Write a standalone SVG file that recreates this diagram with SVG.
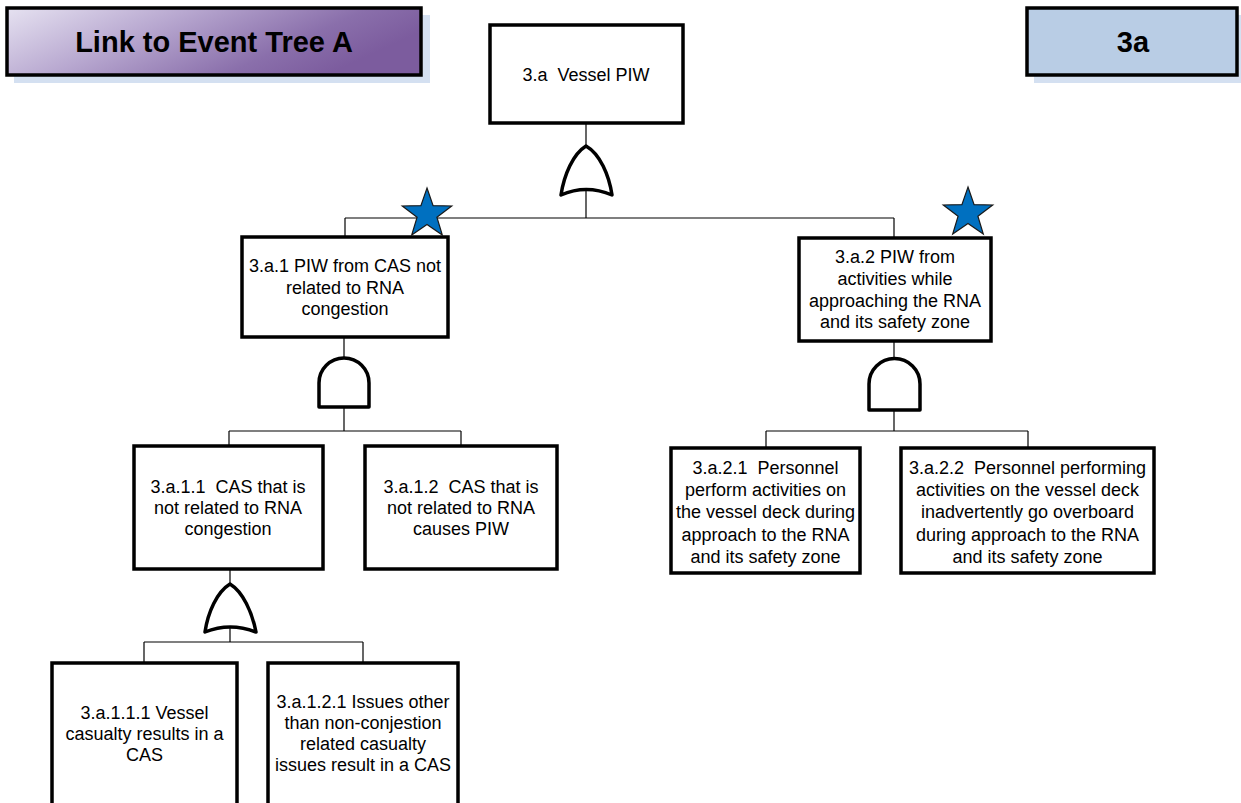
<svg xmlns="http://www.w3.org/2000/svg" width="1241" height="803" viewBox="0 0 1241 803">
<style>
.box{fill:#ffffff;stroke:#000000;stroke-width:3.5}
.gate{fill:#ffffff;stroke:#000000;stroke-width:3.5;stroke-linejoin:round}
.conn line{stroke:#000000;stroke-width:1.2}
.t{font-family:"Liberation Sans",Arial,sans-serif;font-size:18px;fill:#000000;text-anchor:middle;white-space:pre}
.h{font-family:"Liberation Sans",Arial,sans-serif;font-size:29px;font-weight:bold;fill:#000000;text-anchor:middle}
.shadow{fill:#c9d8ee;opacity:0.8}
.star{fill:#0070c0;stroke:#1a1a1a;stroke-width:1.2;stroke-linejoin:miter}
</style>
<defs>
<linearGradient id="purp" x1="0" y1="0" x2="1" y2="0.35">
<stop offset="0" stop-color="#e6e2f1"/>
<stop offset="0.4" stop-color="#b8a8d0"/>
<stop offset="0.78" stop-color="#8a6fab"/>
<stop offset="1" stop-color="#7c5c9e"/>
</linearGradient>
<path id="starShape" d="M0,-26 L6.1,-8.4 L24.7,-8 L9.9,3.2 L15.3,21 L0,10.4 L-15.3,21 L-9.9,3.2 L-24.7,-8 L-6.1,-8.4 Z"/>
</defs>
<rect width="1241" height="803" fill="#ffffff"/>

<g id="link-box">
<rect class="shadow" x="14" y="15" width="416" height="68"/>
<rect x="7" y="8" width="414" height="67" fill="url(#purp)" stroke="#000" stroke-width="3.5"/>
<text class="h" x="214" y="52">Link to Event Tree A</text>
</g>

<g id="label-3a">
<rect class="shadow" x="1034" y="15" width="210" height="68"/>
<rect x="1027" y="8" width="210" height="67" fill="#b9cde5" stroke="#000" stroke-width="3.5"/>
<text class="h" x="1133" y="52">3a</text>
</g>

<g class="conn" id="connectors">
<line x1="586" y1="123" x2="586" y2="146"/>
<line x1="586" y1="190" x2="586" y2="218"/>
<line x1="345" y1="218" x2="894" y2="218"/>
<line x1="345" y1="218" x2="345" y2="237"/>
<line x1="894" y1="218" x2="894" y2="238"/>
<line x1="344" y1="337" x2="344" y2="358"/>
<line x1="344" y1="407" x2="344" y2="431"/>
<line x1="229" y1="431" x2="461" y2="431"/>
<line x1="229" y1="431" x2="229" y2="446"/>
<line x1="461" y1="431" x2="461" y2="446"/>
<line x1="894" y1="341" x2="894" y2="358"/>
<line x1="894" y1="410" x2="894" y2="431"/>
<line x1="766" y1="431" x2="1028" y2="431"/>
<line x1="766" y1="431" x2="766" y2="448"/>
<line x1="1028" y1="431" x2="1028" y2="448"/>
<line x1="230" y1="569" x2="230" y2="584"/>
<line x1="230" y1="626" x2="230" y2="642"/>
<line x1="144" y1="642" x2="363" y2="642"/>
<line x1="144" y1="642" x2="144" y2="663"/>
<line x1="363" y1="642" x2="363" y2="663"/>
</g>

<g id="node-3a">
<rect class="box" x="490" y="25" width="193" height="98"/>
<text class="t" x="586" y="81">3.a  Vessel PIW</text>
</g>
<g id="gate-or-3a">
<path class="gate" d="M586,146 C600,154 609,175 612,195 Q586,184 561,195 C564,175 573,154 586,146 Z"/>
</g>

<g id="node-3a1">
<rect class="box" x="242" y="237" width="206" height="100"/>
<text class="t" x="345" y="272">3.a.1 PIW from CAS not</text>
<text class="t" x="345" y="294">related to RNA</text>
<text class="t" x="345" y="315">congestion</text>
</g>
<g id="star-3a1"><use href="#starShape" class="star" transform="translate(427,214)"/></g>
<g id="gate-and-3a1">
<path class="gate" d="M319,407 V383 A25,25 0 0 1 369,383 V407 Z"/>
</g>

<g id="node-3a2">
<rect class="box" x="799" y="238" width="192" height="103"/>
<text class="t" x="895" y="263">3.a.2 PIW from</text>
<text class="t" x="895" y="285">activities while</text>
<text class="t" x="895" y="307">approaching the RNA</text>
<text class="t" x="895" y="328">and its safety zone</text>
</g>
<g id="star-3a2"><use href="#starShape" class="star" transform="translate(968,213)"/></g>
<g id="gate-and-3a2">
<path class="gate" d="M869,410 V384 A25.5,25.5 0 0 1 920,384 V410 Z"/>
</g>

<g id="node-3a11">
<rect class="box" x="134" y="446" width="189" height="123"/>
<text class="t" x="228" y="493">3.a.1.1  CAS that is</text>
<text class="t" x="228" y="514">not related to RNA</text>
<text class="t" x="228" y="535">congestion</text>
</g>
<g id="gate-or-3a11">
<path class="gate" d="M230,584 C243,592 252,612 256,632 Q230,622 205,632 C208,612 217,592 230,584 Z"/>
</g>

<g id="node-3a12">
<rect class="box" x="365" y="446" width="192" height="123"/>
<text class="t" x="461" y="493">3.a.1.2  CAS that is</text>
<text class="t" x="461" y="514">not related to RNA</text>
<text class="t" x="461" y="535">causes PIW</text>
</g>

<g id="node-3a21">
<rect class="box" x="671" y="448" width="189" height="125"/>
<text class="t" x="765.5" y="474">3.a.2.1  Personnel</text>
<text class="t" x="765.5" y="496">perform activities on</text>
<text class="t" x="765.5" y="518">the vessel deck during</text>
<text class="t" x="765.5" y="541">approach to the RNA</text>
<text class="t" x="765.5" y="563">and its safety zone</text>
</g>

<g id="node-3a22">
<rect class="box" x="901" y="448" width="253" height="125"/>
<text class="t" x="1027.5" y="474">3.a.2.2  Personnel performing</text>
<text class="t" x="1027.5" y="496">activities on the vessel deck</text>
<text class="t" x="1027.5" y="518">inadvertently go overboard</text>
<text class="t" x="1027.5" y="541">during approach to the RNA</text>
<text class="t" x="1027.5" y="563">and its safety zone</text>
</g>

<g id="node-3a111">
<rect class="box" x="52" y="663" width="185" height="150"/>
<text class="t" x="144.5" y="719">3.a.1.1.1 Vessel</text>
<text class="t" x="144.5" y="740">casualty results in a</text>
<text class="t" x="144.5" y="761">CAS</text>
</g>

<g id="node-3a121">
<rect class="box" x="268" y="663" width="190" height="150"/>
<text class="t" x="363" y="708">3.a.1.2.1 Issues other</text>
<text class="t" x="363" y="729">than non-conjestion</text>
<text class="t" x="363" y="750">related casualty</text>
<text class="t" x="363" y="771">issues result in a CAS</text>
</g>
</svg>
